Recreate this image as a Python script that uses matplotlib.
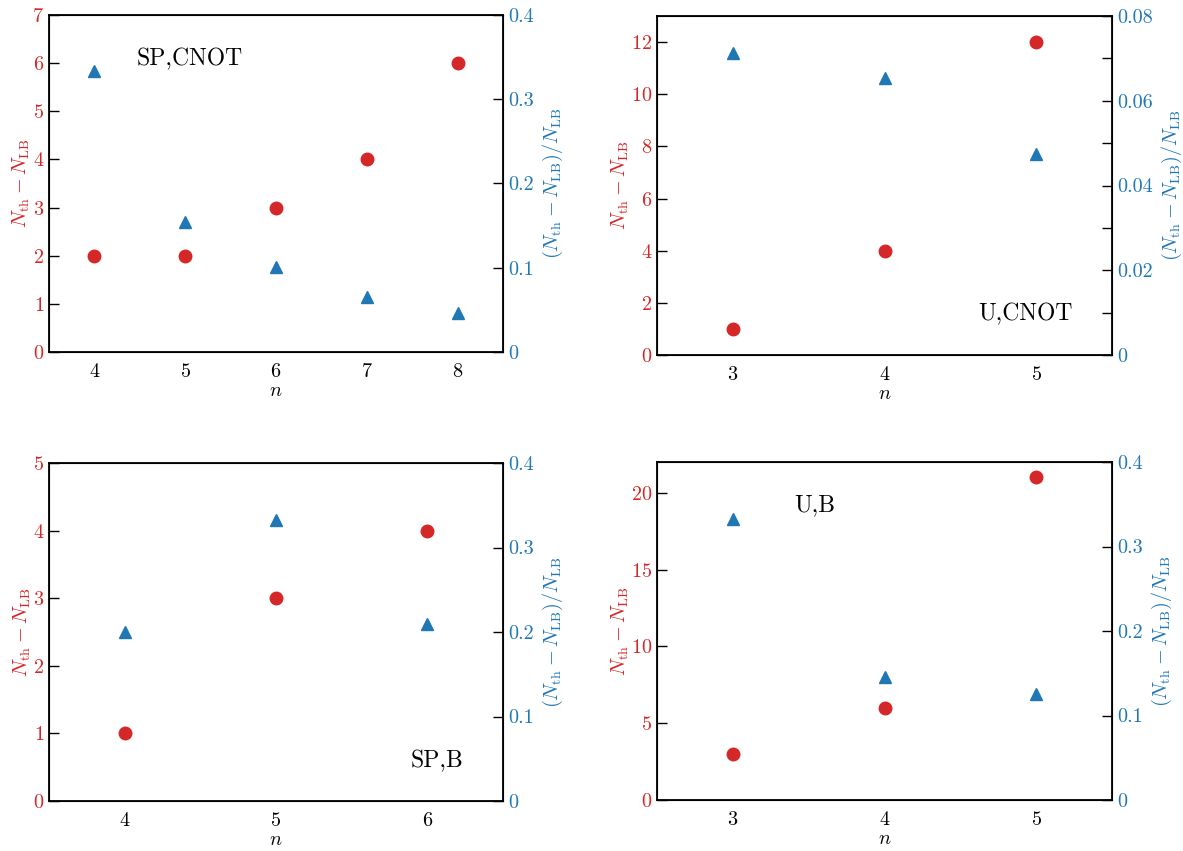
import numpy as np
import matplotlib
matplotlib.use("Agg")
import matplotlib.pyplot as plt
from matplotlib.ticker import FuncFormatter, MultipleLocator

plt.rcParams["font.family"] = "serif"
plt.rcParams["font.serif"] = ["cmr10"]
plt.rcParams["mathtext.fontset"] = "cm"
plt.rcParams["axes.unicode_minus"] = False
plt.rcParams["axes.formatter.use_mathtext"] = True

red = "#d62728"
blue = "#1f77b4"

# gap above the lower bound (absolute and relative) per qubit number
n_sp_cnot = [4, 5, 6, 7, 8]
diff_sp_cnot = [2, 2, 3, 4, 6]
rel_sp_cnot = [0.333, 0.154, 0.101, 0.065, 0.046]

n_u_cnot = [3, 4, 5]
diff_u_cnot = [1, 4, 12]
rel_u_cnot = [0.0713, 0.0654, 0.0475]

n_sp_b = [4, 5, 6]
diff_sp_b = [1, 3, 4]
rel_sp_b = [0.2, 0.333, 0.21]

n_u_b = [3, 4, 5]
diff_u_b = [3, 6, 21]
rel_u_b = [0.333, 0.146, 0.125]

panels = [
    (n_sp_cnot, diff_sp_cnot, rel_sp_cnot, "SP,CNOT", (0.31, 0.87), 7, 1, 0.4, 0.1, None),
    (n_u_cnot, diff_u_cnot, rel_u_cnot, "U,CNOT", (0.81, 0.12), 13, 2, 0.08, 0.02, 0.01),
    (n_sp_b, diff_sp_b, rel_sp_b, "SP,B", (0.855, 0.118), 5, 1, 0.4, 0.1, None),
    (n_u_b, diff_u_b, rel_u_b, "U,B", (0.347, 0.873), 22, 5, 0.4, 0.1, None),
]

boxes = [
    (49, 15, 503, 352),
    (657, 16, 1112, 355),
    (49, 463, 503, 801),
    (657, 462, 1112, 800),
]

W, H = 1183, 851
fig = plt.figure(figsize=(W / 100, H / 100), dpi=100)

fmt = FuncFormatter(lambda v, p: "%g" % round(v, 4))

for (n, d, r, name, pos, ytop, ystep, rtop, rstep, rminor), (x0, y0, x1, y1) in zip(panels, boxes):
    ax = fig.add_axes([x0 / W, 1 - y1 / H, (x1 - x0) / W, (y1 - y0) / H])
    ax.plot(n, d, "o", color=red, ms=9, zorder=3)
    ax.set_xlim(n[0] - 0.5, n[-1] + 0.5)
    ax.set_xticks(n)
    ax.set_ylim(0, ytop)
    ax.yaxis.set_major_locator(MultipleLocator(ystep))
    ax.tick_params(axis="y", direction="in", length=7, width=1, labelsize=14.5, labelcolor=red)
    ax.tick_params(axis="x", length=0, labelsize=14.5, pad=8)
    ax.set_xlabel("$n$", fontsize=14.5, labelpad=1)
    ax.set_ylabel(r"$N_{\rm th} - N_{\rm LB}$", color=red, fontsize=14.5, labelpad=0)
    for s in ax.spines.values():
        s.set_linewidth(1.3)

    ax2 = ax.twinx()
    ax2.plot(n, r, "^", color=blue, ms=9, zorder=3)
    ax2.set_ylim(0, rtop)
    ax2.yaxis.set_major_locator(MultipleLocator(rstep))
    ax2.yaxis.set_major_formatter(fmt)
    if rminor:
        ax2.yaxis.set_minor_locator(MultipleLocator(rminor))
        ax2.tick_params(axis="y", which="minor", direction="in", length=7, width=1)
    ax2.tick_params(axis="y", direction="in", length=7, width=1, labelsize=14.5, labelcolor=blue)
    ax2.set_ylabel(r"$(N_{\rm th} - N_{\rm LB})/N_{\rm LB}$", color=blue, fontsize=14.5, labelpad=5)

    ax.text(pos[0], pos[1], name, transform=ax.transAxes, ha="center", va="center", fontsize=17)

fig.savefig("out.png", dpi=100)
